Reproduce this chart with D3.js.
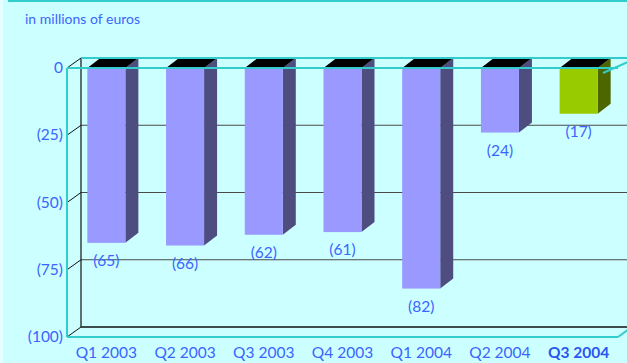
<!DOCTYPE html>
<html>
<head>
<meta charset="utf-8">
<script src="https://cdn.jsdelivr.net/npm/d3@7"></script>
<style>
html,body{margin:0;padding:0;background:#ccffff;}
svg{display:block;}
text{font-family:Lato,"Open Sans",sans-serif;}
</style>
</head>
<body>
<svg id="chart" width="627" height="363"></svg>
<script>
const categories = ["Q1 2003","Q2 2003","Q3 2003","Q4 2003","Q1 2004","Q2 2004","Q3 2004"];
const values = [-65,-66,-62,-61,-82,-24,-17];
const valueLabels = ["(65)","(66)","(62)","(61)","(82)","(24)","(17)"];
const tickValues = [0,-25,-50,-75,-100];
const tickLabels = ["0","(25)","(50)","(75)","(100)"];
const highlight = "Q3 2004";
const unitTitle = "in millions of euros";

const W = 627, H = 363;
const svg = d3.select("#chart");
const left = 67, right = 618, top0 = 68, bottom0 = 337;
const dx = 14, dy = -10;      // chart depth
const bdx = 13, bdy = -10;    // bar depth

const textBlue = "#3c64ff";
const teal = "#33cccc";

svg.append("rect").attr("width", W).attr("height", H).attr("fill", "#ccffff");
svg.append("rect").attr("x", 0).attr("y", 0).attr("width", 3).attr("height", H).attr("fill", "#e4ffff");
svg.append("line").attr("x1", 8).attr("x2", W).attr("y1", 1).attr("y2", 1)
  .attr("stroke", teal).attr("stroke-width", 2);

svg.append("text").attr("x", 25).attr("y", 24).attr("fill", textBlue)
  .attr("font-size", 14).text(unitTitle);

const y = d3.scaleLinear().domain([-100, 0]).range([bottom0, top0]);
const x = d3.scaleBand().domain(categories).range([left, right])
  .paddingInner(0.517).paddingOuter(0.2585);

// back wall gridlines
const g = svg.append("g");
tickValues.forEach(t => {
  if (t === 0) return;
  g.append("line").attr("x1", left + dx).attr("x2", W + 10)
    .attr("y1", y(t) + dy).attr("y2", y(t) + dy)
    .attr("stroke", t === -100 ? "#111" : "#4a4a4a").attr("stroke-width", t === -100 ? 1.5 : 1.2);
});
// back left vertical
g.append("line").attr("x1", left + dx).attr("x2", left + dx)
  .attr("y1", y(0) + dy).attr("y2", y(-100) + dy).attr("stroke", "#111").attr("stroke-width", 1.2);
// left diagonals
tickValues.forEach(t => {
  g.append("line").attr("x1", left).attr("y1", y(t))
    .attr("x2", left + dx).attr("y2", y(t) + dy)
    .attr("stroke", "#111").attr("stroke-width", 1);
});

// bars
const bars = svg.append("g").selectAll("g").data(categories).join("g");
bars.each(function(c, i) {
  const gg = d3.select(this);
  const x0 = x(c), bw = x.bandwidth();
  const yt = y(0), yb = y(values[i]);
  const hi = c === highlight;
  const front = hi ? "#99cc00" : "#9999ff";
  const side = hi ? "#4d6600" : "#4d4d80";
  gg.append("polygon")
    .attr("points", [[x0 + bw, yt], [x0 + bw + bdx, yt + bdy], [x0 + bw + bdx, yb + bdy], [x0 + bw, yb]].join(" "))
    .attr("fill", side);
  gg.append("polygon")
    .attr("points", [[x0, yt], [x0 + bdx, yt + bdy], [x0 + bw + bdx, yt + bdy], [x0 + bw, yt]].join(" "))
    .attr("fill", "#000");
  gg.append("rect").attr("x", x0).attr("y", yt).attr("width", bw).attr("height", yb - yt)
    .attr("fill", front);
});

// teal front frame and back top line
const f = svg.append("g").attr("stroke", teal).attr("stroke-width", 2).attr("fill", "none");
f.append("line").attr("x1", left + dx).attr("x2", W + 10).attr("y1", y(0) + dy).attr("y2", y(0) + dy);
f.append("line").attr("x1", left).attr("x2", right).attr("y1", y(0)).attr("y2", y(0));
f.append("line").attr("x1", left).attr("x2", right).attr("y1", y(-100)).attr("y2", y(-100));
f.append("line").attr("x1", left).attr("x2", left).attr("y1", y(0)).attr("y2", y(-100));
f.append("line").attr("x1", right).attr("y1", y(-100)).attr("x2", right + dx).attr("y2", y(-100) + dy);
f.append("line").attr("x1", right - 15).attr("y1", y(0) + 5).attr("x2", right + 10).attr("y2", y(0) - 6);

// value labels
svg.append("g").selectAll("text").data(categories).join("text")
  .attr("x", c => x(c) + x.bandwidth() / 2)
  .attr("y", (c, i) => y(values[i]) + 23)
  .attr("text-anchor", "middle").attr("fill", textBlue).attr("font-size", 15.5)
  .text((c, i) => valueLabels[i]);

// y tick labels
svg.append("g").selectAll("text").data(tickValues).join("text")
  .attr("x", 63).attr("y", t => y(t) + 5)
  .attr("text-anchor", "end").attr("fill", textBlue).attr("font-size", 15.5)
  .text((t, i) => tickLabels[i]);

// x labels
svg.append("g").selectAll("text").data(categories).join("text")
  .attr("x", c => x(c) + x.bandwidth() / 2)
  .attr("y", 358)
  .attr("text-anchor", "middle")
  .attr("fill", c => c === highlight ? "#2a55f0" : textBlue)
  .attr("font-weight", c => c === highlight ? "bold" : "normal")
  .attr("font-size", 15.5)
  .text(c => c);
</script>
</body>
</html>
